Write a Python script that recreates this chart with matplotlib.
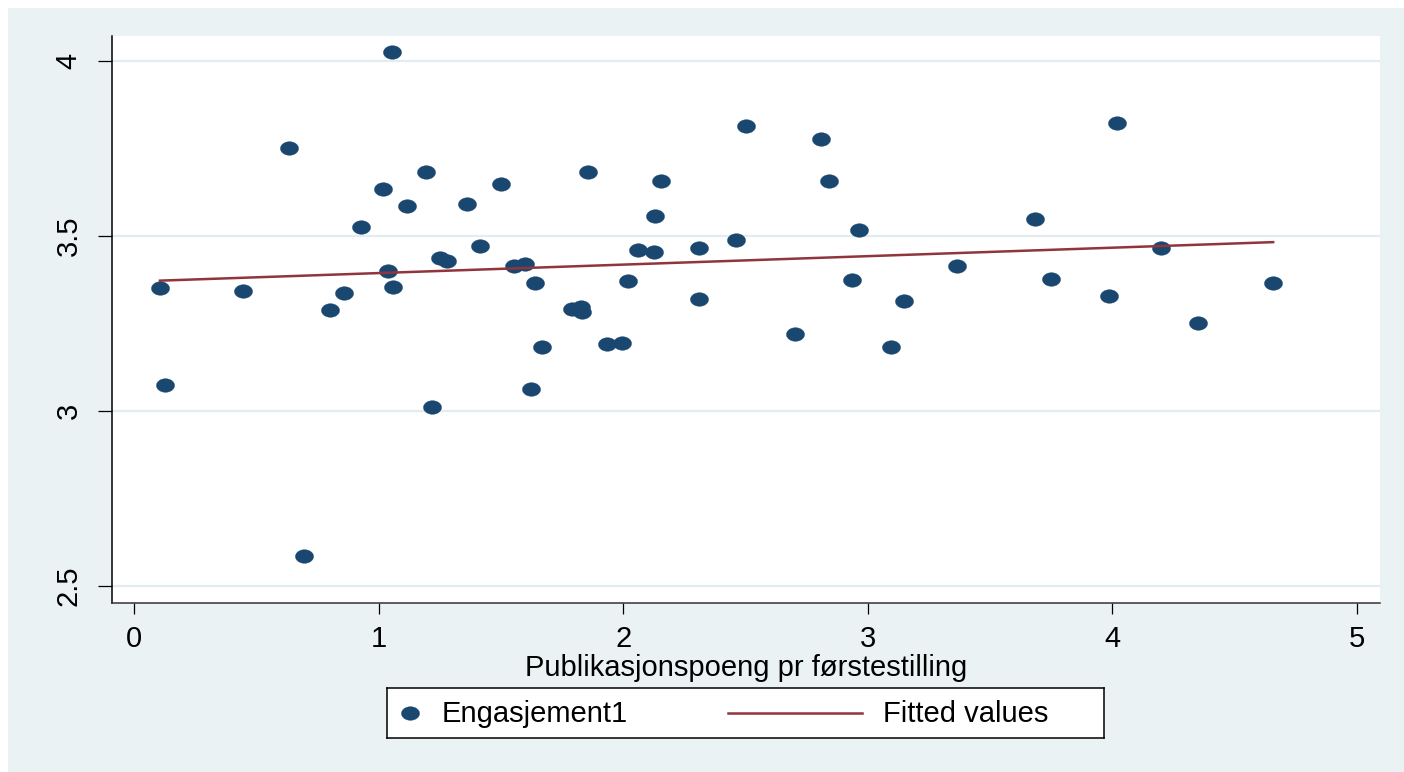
import numpy as np
import matplotlib.pyplot as plt
from matplotlib.path import Path
from matplotlib.patches import Rectangle

plt.rcParams['font.family'] = ['Liberation Sans', 'DejaVu Sans']

# Publikasjonspoeng pr førstestilling (x) vs Engasjement1 (y)
poeng = [0.105, 0.124, 0.446, 0.631, 0.694, 0.800, 0.859, 0.927, 1.016, 1.038,
         1.053, 1.059, 1.115, 1.195, 1.216, 1.250, 1.278, 1.360, 1.414, 1.500,
         1.553, 1.598, 1.622, 1.640, 1.667, 1.791, 1.832, 1.827, 1.854, 1.932,
         1.996, 2.018, 2.059, 2.127, 2.131, 2.156, 2.308, 2.308, 2.460, 2.501,
         2.701, 2.807, 2.840, 2.934, 2.964, 3.093, 3.149, 3.364, 3.683, 3.749,
         3.986, 4.019, 4.198, 4.349, 4.658]
engasjement = [3.351, 3.073, 3.342, 3.751, 2.584, 3.289, 3.338, 3.526, 3.633, 3.399,
               4.024, 3.354, 3.586, 3.681, 3.010, 3.436, 3.429, 3.591, 3.471, 3.649,
               3.414, 3.420, 3.062, 3.364, 3.181, 3.291, 3.282, 3.297, 3.681, 3.191,
               3.193, 3.372, 3.460, 3.455, 3.557, 3.657, 3.466, 3.319, 3.488, 3.814,
               3.219, 3.776, 3.657, 3.373, 3.518, 3.181, 3.314, 3.414, 3.547, 3.376,
               3.329, 3.822, 3.466, 3.252, 3.364]

# fitted values (linear fit), endpoints
fit_x = [0.105, 4.658]
fit_y = [3.372, 3.482]

xticks = [0, 1, 2, 3, 4, 5]
yticks = [2.5, 3, 3.5, 4]
ytick_labels = ['2.5', '3', '3.5', '4']

navy = '#1a476f'
maroon = '#90353b'
bg = '#eaf2f3'
grid = '#e3ecef'
fs = 21

# stata-ish oval marker (picture is a bit wide)
t = np.linspace(0, 2 * np.pi, 65)
oval = Path(np.column_stack([np.cos(t), 0.75 * np.sin(t)]), closed=True)

fig = plt.figure(figsize=(14.04, 7.72), dpi=100)
fig.patch.set_facecolor('white')
fig.add_artist(Rectangle((8 / 1404, 0), 1, 1 - 8 / 772, transform=fig.transFigure,
                         facecolor=bg, edgecolor='none', zorder=0))

ax = fig.add_axes([0.0798, 0.2189, 0.9031, 0.7345])
ax.set_facecolor('white')
ax.set_xlim(-0.091, 5.095)
ax.set_ylim(2.451, 4.071)

for yv in yticks:
    ax.axhline(yv, color=grid, lw=1.6, zorder=1)

ax.plot(poeng, engasjement, ls='none', marker=oval, ms=13, color=navy,
        mec=navy, mew=0.3, zorder=3)
ax.plot(fit_x, fit_y, color=maroon, lw=1.8, zorder=4)

ax.spines['top'].set_visible(False)
ax.spines['right'].set_visible(False)
ax.spines['left'].set_color('black')
ax.spines['left'].set_linewidth(1.1)
ax.spines['bottom'].set_color('#333333')
ax.spines['bottom'].set_linewidth(1.1)

ax.set_xticks(xticks)
ax.set_yticks(yticks, ytick_labels)
ax.tick_params(axis='y', length=10, width=0.9, pad=11, labelsize=fs, labelrotation=90)
ax.tick_params(axis='x', length=7.6, width=0.9, pad=8, labelsize=fs)
for lbl in ax.get_yticklabels():
    lbl.set_va('center')
ax.set_xlabel('Publikasjonspoeng pr førstestilling', fontsize=fs, labelpad=1)

# legend box
lax = fig.add_axes([387 / 1404, (772 - 738) / 772, 717 / 1404, 50 / 772])
lax.set_xlim(0, 717)
lax.set_ylim(0, 50)
lax.set_xticks([])
lax.set_yticks([])
lax.set_facecolor('white')
for s in lax.spines.values():
    s.set_color('black')
    s.set_linewidth(1.1)
lax.plot([23], [25], ls='none', marker=oval, ms=13, color=navy, mec=navy, mew=0.3)
lax.text(55, 24, 'Engasjement1', va='center', ha='left', fontsize=fs)
lax.plot([341, 475], [25, 25], color=maroon, lw=1.8)
lax.text(496, 24, 'Fitted values', va='center', ha='left', fontsize=fs)

fig.savefig('out.png', dpi=100, facecolor=fig.get_facecolor())
